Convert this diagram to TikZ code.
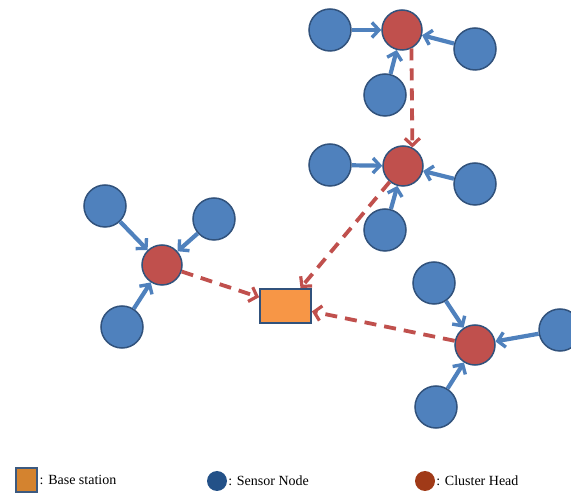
\documentclass[tikz,border=0pt]{standalone}
\usepackage{fontspec}
\setmainfont{Liberation Serif}
\usetikzlibrary{arrows.meta}
\definecolor{snsfill}{HTML}{4F81BD}
\definecolor{snsedge}{HTML}{31527C}
\definecolor{chfill}{HTML}{C0504D}
\definecolor{bsfill}{HTML}{F79646}
\definecolor{lgbs}{HTML}{D4832F}
\definecolor{lgedge}{HTML}{3C5A80}
\definecolor{lgsns}{HTML}{235188}
\definecolor{lgch}{HTML}{A03A18}
\tikzset{sensor/.style={circle, fill=snsfill, draw=snsedge, line width=1.5pt, minimum size=42pt, inner sep=0pt},
         head/.style={circle, fill=chfill, draw=snsedge, line width=1.5pt, minimum size=40pt, inner sep=0pt},
         station/.style={rectangle, fill=bsfill, draw=snsedge, line width=1.8pt, minimum width=51pt, minimum height=34pt, inner sep=0pt},
         link/.style={snsfill, line width=4.2pt, -{Straight Barb[length=7pt,width=15pt,line width=3.4pt]}},
         hop/.style={chfill, line width=3.8pt, dash pattern=on 12pt off 8pt, -{Straight Barb[length=7pt,width=15pt,line width=3.2pt]}},
         legtext/.style={anchor=west, inner sep=0pt, font=\fontsize{14}{16}\selectfont}}

\begin{document}
\begin{tikzpicture}[x=1pt,y=-1pt]
  \useasboundingbox (0,0) rectangle (571,494);
  % cluster heads and base station
  \node[head] (ch1) at (402, 30) {};
  \node[head] (ch2) at (403,166) {};
  \node[head] (ch3) at (162,265) {};
  \node[head] (ch4) at (475,345) {};
  \node[station] (bs) at (285.5,306) {};
  % sensors
  \node[sensor] (s11) at (330, 30) {};
  \node[sensor] (s12) at (475, 49) {};
  \node[sensor] (s13) at (385, 95) {};
  \node[sensor] (s21) at (330,165) {};
  \node[sensor] (s22) at (475,184) {};
  \node[sensor] (s23) at (385,230) {};
  \node[sensor] (s31) at (105,206) {};
  \node[sensor] (s32) at (214,219) {};
  \node[sensor] (s33) at (122,327) {};
  \node[sensor] (s41) at (434,283) {};
  \node[sensor] (s42) at (560,330) {};
  \node[sensor] (s43) at (436,407) {};
  % sensor to head
  \foreach \c in {1,2,3,4}
    \foreach \s in {1,2,3}
      \draw[link] (s\c\s) -- (ch\c);
  % head to head / station
  \draw[hop] (ch1.-63) -- (ch2.63);
  \draw[hop] (ch2) -- (bs);
  \draw[hop] (ch3) -- (bs);
  \draw[hop] (ch4) -- (bs);
  % legend
  \node[rectangle, fill=lgbs, draw=lgedge, line width=2pt, minimum width=21pt, minimum height=24pt, inner sep=0pt] (lg1) at (26,480) {};
  \node[legtext] (lt1) at ([xshift=2pt]lg1.east) {: Base station};
  \node[circle, fill=lgsns, minimum size=20pt, inner sep=0pt] (lg2) at (217,481) {};
  \node[legtext] (lt2) at ([xshift=1pt]lg2.east) {: Sensor Node};
  \node[circle, fill=lgch, minimum size=20pt, inner sep=0pt] (lg3) at (425,481) {};
  \node[legtext] (lt3) at ([xshift=1pt]lg3.east) {: Cluster Head};
\end{tikzpicture}
\end{document}
